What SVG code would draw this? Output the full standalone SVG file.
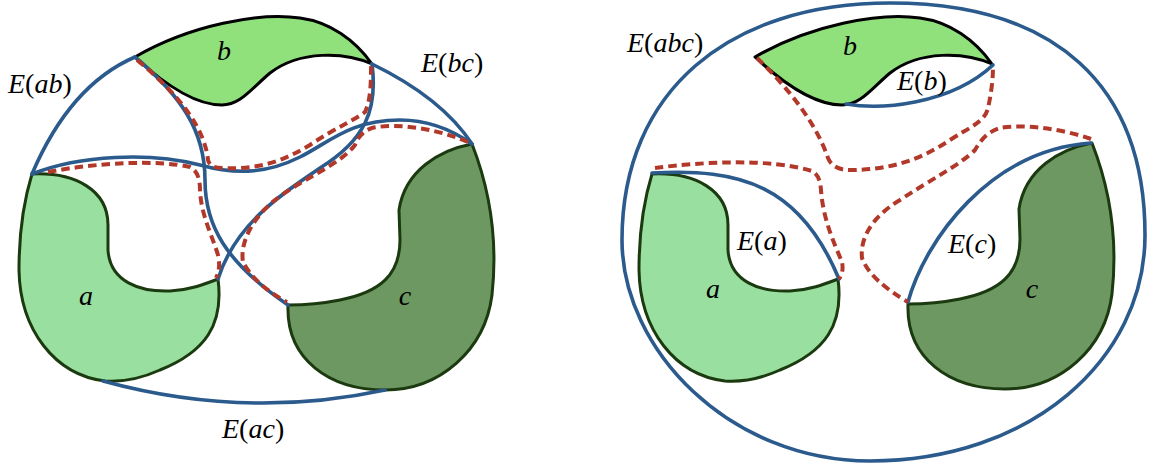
<svg xmlns="http://www.w3.org/2000/svg" xmlns:xlink="http://www.w3.org/1999/xlink" width="1151" height="467" viewBox="0 0 1151 467">
<style>
.regA{fill:#98dfa0;stroke:#1b3a10;stroke-width:3;stroke-linejoin:round}
.regB{fill:#90e07b;stroke:#000;stroke-width:3;stroke-linejoin:round}
.regC{fill:#6d9862;stroke:#1b3a10;stroke-width:3;stroke-linejoin:round}
.blue{fill:none;stroke:#2b5a8c;stroke-width:3.6;stroke-linecap:round}
.red{fill:none;stroke:#b2382a;stroke-width:4;stroke-dasharray:8.5 5}
.lbl{font-family:"Liberation Serif","Times New Roman",serif;font-size:28px;font-style:italic;fill:#000}
.up{font-style:normal}
</style>
<defs>
<path id="shapeA" d="M32,174 C75,172 108,190 108,225 L108,250 C110,282 140,292 170,291 C190,290 205,284 218,279 C224,325 205,352 160,370 C140,379 120,382 105,381 C55,375 20,330 19,270 C19,230 24,200 32,174 Z"/>
<path id="shapeB" d="M135,57 C190,25 260,12 300,18 C330,22 355,40 372,64 C345,52 300,50 270,73 C250,90 240,105 222,105 C195,105 165,85 135,57 Z"/>
<path id="shapeC" d="M472,144 C440,150 405,170 399,210 L400,240 C400,275 380,292 340,300 C320,304 300,305 288,305 C286,360 330,390 385,390 C440,390 485,350 492,295 C498,240 490,190 472,144 Z"/>
</defs>

<g id="left-a"><use xlink:href="#shapeA" class="regA"/></g>
<g id="left-b"><use xlink:href="#shapeB" class="regB"/></g>
<g id="left-c"><use xlink:href="#shapeC" class="regC"/></g>

<g id="right-a"><use xlink:href="#shapeA" class="regA" transform="translate(620,0)"/></g>
<g id="right-b"><use xlink:href="#shapeB" class="regB" transform="translate(620,0)"/></g>
<g id="right-c"><use xlink:href="#shapeC" class="regC" transform="translate(620,-1)"/></g>

<g id="connectors">
<path class="blue" d="M32,174 Q70,85 135,57"/>
<path class="blue" d="M372,64 Q442,98 472,144"/>
<path class="blue" d="M103,381 Q245,420 385,390"/>
<path class="blue" d="M135,57 C180,95 205,130 205,180 C205,225 225,262 288,305"/>
<path class="blue" d="M372,64 C378,110 365,140 320,168 C280,195 235,225 218,279"/>
<path class="blue" d="M32,174 C80,155 150,152 200,165 C240,176 270,172 300,157 C330,142 350,120 400,120 C430,120 455,132 472,144"/>
<path class="red" d="M137,60 C182,97 205,130 208,160 Q210,168 222,168 C260,170 285,160 310,145 C335,128 355,120 365,112 C371,100 371,80 371,66"/>
<path class="red" d="M48,172 C100,162 160,160 190,167 Q200,172 200,190 C201,215 212,235 218,255 Q221,268 216,278"/>
<path class="red" d="M468,142 C440,130 400,122 372,128 Q360,132 355,145 C340,165 300,180 275,200 C250,220 240,245 243,262 Q255,285 287,302"/>
<path class="blue" d="M890,3 C1055,3 1145,85 1145,235 C1145,360 1030,461 870,461 C730,461 622,350 622,240 C622,90 730,3 890,3 Z"/>
<path class="blue" d="M846,104 C880,110 950,105 993,65"/>
<path class="blue" d="M652,173 C740,168 800,185 839,279"/>
<path class="blue" d="M908,302 C925,240 990,150 1091,143"/>
<path class="red" d="M757,58 C785,85 815,120 828,158 Q833,170 850,170 C890,170 920,160 950,140 C970,127 985,122 988,108 C991,95 993,80 993,67"/>
<path class="red" d="M655,168 C700,162 770,158 812,171 Q820,175 821,190 C823,220 835,245 842,262 Q844,272 839,279"/>
<path class="red" d="M1091,139 C1060,128 1020,124 1000,128 Q985,132 975,150 C960,165 930,180 900,200 C870,218 860,240 862,258 Q870,280 908,302"/>
</g>

<g id="labels">
<text class="lbl" x="8" y="93">E<tspan class="up">(</tspan>ab<tspan class="up">)</tspan></text>
<text class="lbl" x="421" y="72">E<tspan class="up">(</tspan>bc<tspan class="up">)</tspan></text>
<text class="lbl" x="222" y="438">E<tspan class="up">(</tspan>ac<tspan class="up">)</tspan></text>
<text class="lbl" x="224" y="60" text-anchor="middle">b</text>
<text class="lbl" x="86" y="305" text-anchor="middle">a</text>
<text class="lbl" x="405" y="305" text-anchor="middle">c</text>
<text class="lbl" x="627" y="52">E<tspan class="up">(</tspan>abc<tspan class="up">)</tspan></text>
<text class="lbl" x="897" y="90">E<tspan class="up">(</tspan>b<tspan class="up">)</tspan></text>
<text class="lbl" x="737" y="250">E<tspan class="up">(</tspan>a<tspan class="up">)</tspan></text>
<text class="lbl" x="948" y="253">E<tspan class="up">(</tspan>c<tspan class="up">)</tspan></text>
<text class="lbl" x="850" y="55" text-anchor="middle">b</text>
<text class="lbl" x="713" y="298" text-anchor="middle">a</text>
<text class="lbl" x="1032" y="298" text-anchor="middle">c</text>
</g>
</svg>
